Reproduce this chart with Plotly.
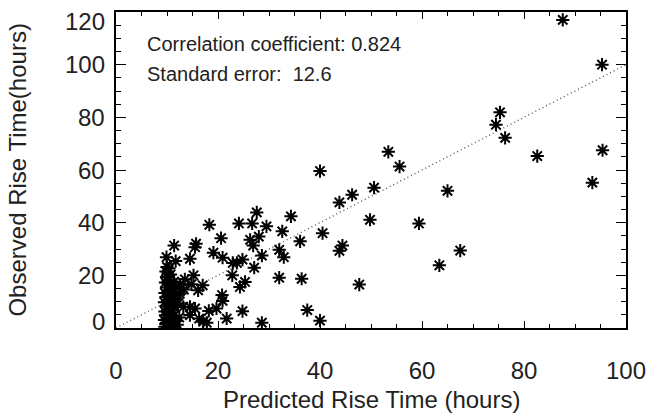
import plotly.graph_objects as go

# Predicted vs observed rise times (hours)
pred = [87.6, 95.3, 75.3, 74.5, 76.3, 82.6, 95.4, 93.4, 53.4, 55.6, 40.0, 50.6,
        46.3, 43.8, 65.0, 49.8, 59.4, 40.5, 36.1, 44.4, 43.8, 67.5, 63.4, 36.4,
        47.7, 37.5, 40.0,
        27.6, 34.3, 18.3, 24.1, 26.7, 29.5, 32.6, 20.6, 26.3, 28.0, 26.9, 15.7,
        15.5, 11.4, 19.1, 20.9, 32.0, 32.9, 28.6, 22.9, 23.7, 24.8, 27.1, 9.9,
        11.7, 14.5, 22.8, 32.0, 25.3, 24.3, 20.8, 20.9, 19.7, 18.2, 24.8, 21.7,
        28.6, 17.8, 17.1, 15.2, 13.5, 17.0, 16.1, 14.8, 14.5, 15.5, 14.5, 16.3,
        13.2,
        9.6, 10.2, 10.8, 11.5, 9.8, 10.5, 11.2, 12.0, 9.5, 10.1, 10.9, 11.6,
        9.7, 10.4, 11.3, 12.4, 9.6, 10.2, 11.0, 9.9, 10.6, 11.5, 9.5, 10.3,
        11.1, 12.2, 9.8, 10.7, 11.6, 9.6, 10.4, 11.3, 12.5, 13.3, 9.9, 10.8,
        11.8, 12.6, 9.7, 10.5, 11.4, 9.9, 10.7, 9.8, 10.4, 10.0]
obs = [117.0, 100.0, 81.9, 77.2, 72.2, 65.3, 67.5, 55.2, 66.9, 61.3, 59.6, 53.3,
       50.6, 47.7, 52.1, 41.1, 39.7, 36.0, 32.9, 31.3, 29.3, 29.4, 23.8, 18.7,
       16.5, 6.8, 2.8,
       43.9, 42.4, 39.2, 39.7, 39.7, 38.6, 36.7, 34.1, 33.5, 34.7, 31.3, 32.0,
       30.7, 31.3, 28.6, 26.7, 29.7, 26.9, 27.5, 24.7, 24.7, 26.0, 22.9, 26.9,
       25.4, 26.3, 20.0, 19.1, 17.5, 15.6, 12.5, 10.3, 7.4, 6.5, 6.4, 3.6,
       2.0, 2.0, 2.4, 20.0, 18.5, 16.2, 14.3, 16.6, 8.0, 7.4, 4.9, 3.6,
       8.0,
       0.5, 0.3, 0.8, 0.4, 1.5, 2.0, 1.8, 1.2, 3.0, 3.5, 3.2, 2.8,
       4.8, 5.2, 4.6, 4.0, 6.3, 7.0, 6.6, 8.2, 8.8, 8.0, 9.8, 10.4,
       10.0, 9.4, 11.8, 12.2, 11.5, 13.3, 14.0, 13.6, 13.0, 14.6, 15.4, 16.0,
       15.6, 16.4, 17.3, 18.2, 17.6, 19.4, 20.3, 21.5, 22.6, 23.2]

# one-to-one reference line
line_x = [0, 100]
line_y = [0, 100]

x_ticks = [0, 20, 40, 60, 80, 100]
y_ticks = [0, 20, 40, 60, 80, 100, 120]
y_tick_labels = ["0", "20", "40", "60", "80", "100", "120"]

stats_text = ["Correlation coefficient: 0.824", "Standard error:  12.6"]

FONT = "Liberation Sans, Arial, Helvetica, sans-serif"
TXT = "#222222"

fig = go.Figure()
fig.add_trace(go.Scatter(x=line_x, y=line_y, mode="lines",
                         line=dict(color="#555555", width=1.4, dash="1px,3px"),
                         hoverinfo="skip", showlegend=False))
fig.add_trace(go.Scatter(x=pred, y=obs, mode="markers",
                         marker=dict(symbol="asterisk-open", size=11,
                                     color="black",
                                     line=dict(color="black", width=2)),
                         showlegend=False))

axis_common = dict(showgrid=False, zeroline=False, showline=True,
                   linecolor="black", linewidth=1.5, mirror="ticks",
                   ticks="inside", tickcolor="black", tickwidth=1.2)

fig.update_xaxes(range=[0, 100], tickvals=x_ticks, ticklen=7,
                 minor=dict(dtick=5, ticks="inside", ticklen=4,
                            tickcolor="black", tickwidth=1),
                 tickfont=dict(family=FONT, size=24, color=TXT),
                 ticklabelstandoff=20, **axis_common)
fig.update_yaxes(range=[0, 120], tickvals=y_ticks, ticklen=10,
                 showticklabels=False,
                 minor=dict(dtick=5, ticks="inside", ticklen=5,
                            tickcolor="black", tickwidth=1),
                 **axis_common)

# y tick labels (end labels pulled inside the axis span, as in the reference)
end_shift = {0: 7, 120: -9}
for v, lab in zip(y_ticks, y_tick_labels):
    fig.add_annotation(x=0, xref="paper", y=v, yref="y", text=lab,
                       showarrow=False, xanchor="right", yanchor="middle",
                       xshift=-9, yshift=end_shift.get(v, 0),
                       font=dict(family=FONT, size=24, color=TXT))

# statistics text
for i, t in enumerate(stats_text):
    fig.add_annotation(x=5.6, y=108 - i * 11.5, xref="x", yref="y", text=t,
                       showarrow=False, xanchor="left", yanchor="middle",
                       font=dict(family=FONT, size=20, color=TXT))

# axis titles
fig.add_annotation(x=0.5, y=-0.225, xref="paper", yref="paper",
                   text="Predicted Rise Time (hours)", showarrow=False,
                   xanchor="center", yanchor="middle",
                   font=dict(family=FONT, size=24, color=TXT))
fig.add_annotation(x=-0.195, y=0.5, xref="paper", yref="paper",
                   text="Observed Rise Time(hours)", showarrow=False,
                   textangle=-90, xanchor="center", yanchor="middle",
                   font=dict(family=FONT, size=24, color=TXT))

fig.update_layout(width=662, height=418,
                  margin=dict(l=116, r=36, t=10, b=90),
                  paper_bgcolor="white", plot_bgcolor="white")

fig.write_html("out.html", config={"displayModeBar": False},
               post_script="document.body.style.margin='0';"
                           "document.body.style.padding='0';")
